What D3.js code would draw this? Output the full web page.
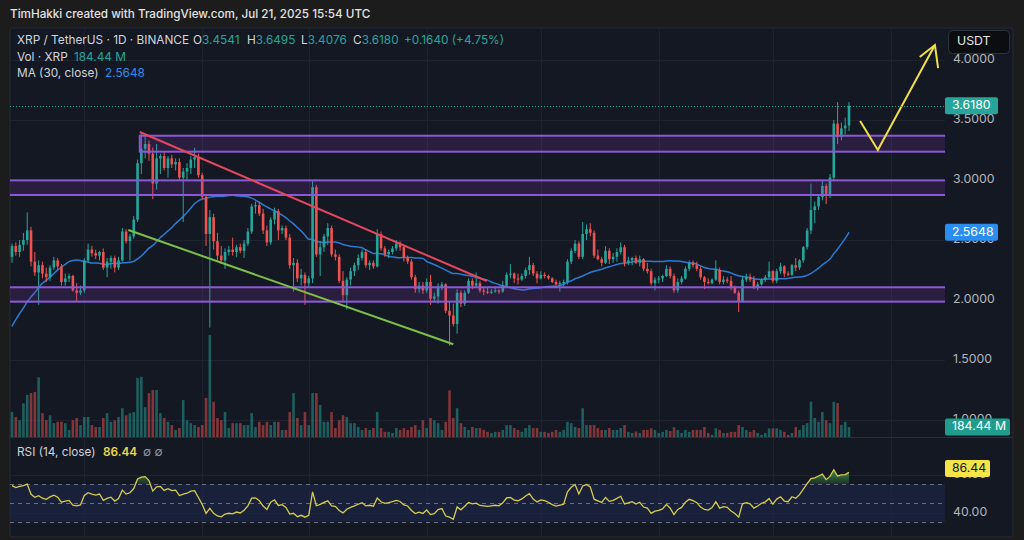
<!DOCTYPE html>
<html>
<head>
<meta charset="utf-8">
<script src="https://cdn.jsdelivr.net/npm/d3@7"></script>
<style>
  body { margin: 0; background: #1c1c1c; }
  svg { display: block; font-family: Inter, "Noto Sans", sans-serif; }
</style>
</head>
<body>
<div id="chart"></div>
<script>
// XRP/USDT daily candles, 13 Dec 2024 .. 21 Jul 2025
const startDate = "2024-12-13";
const opens = [2.36,2.45,2.40,2.46,2.50,2.58,2.32,2.23,2.29,2.22,2.19,2.27,2.33,2.28,2.15,2.18,2.20,2.08,2.06,2.08,
  2.33,2.42,2.39,2.37,2.40,2.27,2.32,2.35,2.27,2.33,2.57,2.49,2.53,2.67,3.14,3.26,3.30,3.22,2.97,3.18,
  3.20,3.10,3.18,3.13,3.15,3.02,3.07,3.10,3.17,3.19,3.04,2.86,2.55,2.69,2.49,2.37,2.33,2.40,2.42,2.40,
  2.44,2.41,2.47,2.57,2.78,2.79,2.72,2.58,2.48,2.67,2.74,2.58,2.60,2.52,2.29,2.31,2.18,2.21,2.14,2.18,
  2.94,2.38,2.44,2.53,2.60,2.38,2.36,2.16,2.04,2.17,2.24,2.29,2.35,2.40,2.29,2.31,2.28,2.55,2.43,2.38,
  2.40,2.43,2.47,2.44,2.35,2.32,2.19,2.09,2.12,2.08,2.15,2.01,2.03,2.11,2.13,1.91,1.87,1.80,2.06,1.97,
  2.06,2.16,2.12,2.14,2.08,2.07,2.06,2.07,2.08,2.07,2.12,2.21,2.22,2.18,2.17,2.20,2.25,2.29,2.22,2.18,
  2.21,2.20,2.18,2.15,2.13,2.14,2.15,2.32,2.41,2.47,2.36,2.55,2.59,2.56,2.37,2.34,2.31,2.41,2.34,2.36,
  2.40,2.44,2.31,2.33,2.35,2.31,2.34,2.26,2.24,2.14,2.17,2.18,2.20,2.26,2.20,2.08,2.15,2.18,2.26,2.31,
  2.29,2.26,2.19,2.15,2.14,2.17,2.25,2.15,2.17,2.16,2.10,2.06,1.99,2.17,2.19,2.17,2.10,2.13,2.17,2.19,
  2.24,2.16,2.24,2.28,2.22,2.21,2.29,2.27,2.33,2.44,2.58,2.75,2.78,2.86,2.95,2.88,3.02,3.47,3.36,3.43,
  3.4541];
const highs = [2.47,2.48,2.50,2.56,2.73,2.61,2.40,2.33,2.32,2.27,2.29,2.36,2.35,2.30,2.22,2.22,2.21,2.14,2.12,2.35,
  2.47,2.45,2.42,2.41,2.43,2.35,2.37,2.37,2.36,2.60,2.59,2.55,2.70,3.17,3.40,3.38,3.33,3.27,3.30,3.22,
  3.24,3.20,3.21,3.18,3.18,3.10,3.14,3.20,3.27,3.22,3.06,2.88,2.75,2.72,2.56,2.45,2.43,2.45,2.52,2.46,
  2.47,2.50,2.60,2.80,2.82,2.82,2.76,2.62,2.69,2.77,2.76,2.62,2.62,2.55,2.35,2.34,2.26,2.23,2.20,2.99,
  2.96,2.49,2.55,2.64,2.62,2.42,2.38,2.24,2.19,2.27,2.31,2.38,2.42,2.42,2.33,2.33,2.59,2.57,2.45,2.42,
  2.45,2.50,2.49,2.46,2.37,2.34,2.21,2.15,2.15,2.18,2.21,2.06,2.14,2.15,2.14,1.99,1.97,2.09,2.08,2.08,
  2.18,2.18,2.23,2.16,2.10,2.10,2.09,2.11,2.09,2.16,2.23,2.30,2.23,2.22,2.22,2.27,2.36,2.31,2.24,2.24,
  2.23,2.21,2.19,2.17,2.16,2.17,2.34,2.43,2.50,2.49,2.65,2.63,2.64,2.58,2.42,2.36,2.45,2.43,2.39,2.43,
  2.48,2.46,2.36,2.36,2.37,2.37,2.35,2.31,2.26,2.19,2.20,2.21,2.29,2.28,2.22,2.18,2.20,2.28,2.33,2.33,
  2.32,2.28,2.20,2.18,2.18,2.33,2.27,2.20,2.19,2.20,2.12,2.08,2.20,2.22,2.22,2.20,2.15,2.18,2.21,2.32,
  2.25,2.26,2.31,2.29,2.24,2.30,2.35,2.34,2.45,2.60,2.97,2.82,2.88,2.99,2.97,3.05,3.50,3.65,3.48,3.52,
  3.6495];
const lows = [2.31,2.37,2.36,2.41,2.46,2.28,2.20,1.96,2.18,2.15,2.16,2.25,2.25,2.12,2.12,2.15,2.07,1.99,2.04,2.06,
  2.31,2.36,2.34,2.33,2.25,2.19,2.26,2.23,2.25,2.32,2.47,2.33,2.51,2.65,3.05,3.18,3.16,2.84,2.92,3.05,
  3.08,3.02,3.10,3.08,3.00,2.65,3.00,3.05,3.10,3.02,2.84,2.45,1.77,2.42,2.33,2.30,2.26,2.37,2.37,2.36,
  2.39,2.35,2.45,2.55,2.72,2.70,2.55,2.45,2.46,2.63,2.50,2.55,2.50,2.26,2.07,2.15,2.12,1.96,2.11,2.14,
  2.36,2.20,2.40,2.46,2.36,2.33,2.14,1.99,1.92,2.12,2.20,2.25,2.33,2.27,2.25,2.26,2.27,2.41,2.36,2.35,
  2.38,2.41,2.41,2.32,2.30,2.17,2.06,2.06,2.05,2.06,1.96,1.98,1.97,2.08,1.89,1.62,1.78,1.72,1.94,1.95,
  2.05,2.09,2.10,2.06,2.04,2.05,2.05,2.06,2.05,2.06,2.10,2.18,2.14,2.13,2.16,2.18,2.21,2.20,2.14,2.17,
  2.18,2.17,2.14,2.12,2.07,2.11,2.13,2.30,2.39,2.34,2.34,2.50,2.53,2.35,2.33,2.28,2.30,2.30,2.31,2.32,
  2.38,2.28,2.29,2.29,2.30,2.28,2.24,2.22,2.12,2.08,2.14,2.15,2.19,2.18,2.06,2.06,2.13,2.17,2.24,2.27,
  2.24,2.17,2.09,2.13,2.13,2.16,2.13,2.13,2.14,2.08,2.05,1.90,1.98,2.15,2.15,2.09,2.08,2.12,2.15,2.18,
  2.14,2.14,2.22,2.19,2.20,2.20,2.24,2.25,2.31,2.42,2.55,2.64,2.75,2.83,2.80,2.85,3.00,3.30,3.33,3.38,
  3.4076];
const closes = [2.45,2.40,2.46,2.50,2.58,2.32,2.23,2.29,2.22,2.19,2.27,2.33,2.28,2.15,2.18,2.20,2.08,2.06,2.08,2.33,
  2.42,2.39,2.37,2.40,2.27,2.32,2.35,2.27,2.33,2.57,2.49,2.53,2.67,3.14,3.26,3.30,3.22,2.97,3.18,3.20,
  3.10,3.18,3.13,3.15,3.02,3.07,3.10,3.17,3.19,3.04,2.86,2.55,2.69,2.49,2.37,2.33,2.40,2.42,2.40,2.44,
  2.41,2.47,2.57,2.78,2.79,2.72,2.58,2.48,2.67,2.74,2.58,2.60,2.52,2.29,2.31,2.18,2.21,2.14,2.18,2.94,
  2.38,2.44,2.53,2.60,2.38,2.36,2.16,2.04,2.17,2.24,2.29,2.35,2.40,2.29,2.31,2.28,2.55,2.43,2.38,2.40,
  2.43,2.47,2.44,2.35,2.32,2.19,2.09,2.12,2.08,2.15,2.01,2.03,2.11,2.13,1.91,1.87,1.80,2.06,1.97,2.06,
  2.16,2.12,2.14,2.08,2.07,2.06,2.07,2.08,2.07,2.12,2.21,2.22,2.18,2.17,2.20,2.25,2.29,2.22,2.18,2.21,
  2.20,2.18,2.15,2.13,2.14,2.15,2.32,2.41,2.47,2.36,2.55,2.59,2.56,2.37,2.34,2.31,2.41,2.34,2.36,2.40,
  2.44,2.31,2.33,2.35,2.31,2.34,2.26,2.24,2.14,2.17,2.18,2.20,2.26,2.20,2.08,2.15,2.18,2.26,2.31,2.29,
  2.26,2.19,2.15,2.14,2.17,2.25,2.15,2.17,2.16,2.10,2.06,1.99,2.17,2.19,2.17,2.10,2.13,2.17,2.19,2.24,
  2.16,2.24,2.28,2.22,2.21,2.29,2.27,2.33,2.44,2.58,2.75,2.78,2.86,2.95,2.88,3.02,3.47,3.36,3.43,3.4540,
  3.6180];
// volume in millions of XRP
const volumes = [460,370,310,620,775,810,830,1100,440,310,400,255,280,280,255,130,310,350,220,370,
  370,220,185,185,350,440,280,310,370,530,400,440,460,1090,1110,550,810,865,865,440,
  350,280,220,130,165,680,310,255,220,185,220,720,1880,650,350,310,460,165,255,255,
  255,220,220,440,185,280,220,280,220,280,280,130,130,460,810,350,220,460,220,810,
  810,590,280,280,460,165,310,400,370,255,255,185,130,165,130,165,460,165,95,95,
  75,165,130,165,130,185,220,130,310,165,350,310,255,130,280,860,350,530,255,185,
  130,185,165,165,130,95,75,95,95,130,220,220,165,130,95,165,220,165,165,95,
  95,75,95,130,95,130,280,255,185,165,530,220,220,220,165,130,130,165,130,130,
  165,220,95,75,100,75,130,130,160,130,75,95,130,110,180,130,75,130,95,130,
  130,130,185,75,40,160,130,75,75,95,95,220,185,130,95,130,75,40,75,160,
  160,160,130,95,40,75,185,130,220,255,650,350,280,460,310,255,650,625,220,280,
  184.44];
// closes 14 Nov .. 12 Dec 2024, only used to warm up MA and RSI
const priorCloses = [0.75,0.91,1.10,1.06,1.13,1.08,1.10,1.12,1.46,1.46,1.42,1.43,1.38,1.52,1.53,1.77,1.95,
  2.18,2.64,2.52,2.61,2.37,2.51,2.47,2.42,2.07,2.24,2.38,2.40];

const priceTicks = [4, 3.5, 3, 2.5, 2, 1.5, 1];
const rsiTicks = [80, 40];
const rsiLevels = [70, 50, 30];
const maLast = 2.5648;
const rsiLast = 86.44;

// drawings on the chart
const zoneTops = [3.369, 2.997, 2.106];
const zoneBottoms = [3.236, 2.875, 1.986];
const zoneStarts = ["2025-01-15T14:00Z", null, null];
const redLine = [["2025-01-15T14:00Z", 3.40], ["2025-04-16T19:00Z", 2.158]];
const greenLine = [["2025-01-12T14:00Z", 2.583], ["2025-04-08T00:00Z", 1.631]];
const yellowPath = [["2025-07-23T22:00Z", 3.492], ["2025-07-28T14:00Z", 3.25], ["2025-08-12T14:00Z", 4.125]];
const arrowHead = [["2025-08-08T14:00Z", 4.025], ["2025-08-12T14:00Z", 4.125], ["2025-08-13T10:00Z", 3.933]];

const W = 1024, H = 540;
const pane = { left: 10, right: 1013, top: 28, bottom: 537 };
const plotRight = 945;
const volBottom = 437;

const up = "#26a69a", down = "#ef5350";

const first = new Date(startDate + "T00:00Z");
const dates = d3.utcDay.range(first, d3.utcDay.offset(first, opens.length));
const data = dates.map((d, i) => ({
  date: d, open: opens[i], high: highs[i], low: lows[i], close: closes[i], vol: volumes[i],
}));

function movingAverage(values, n) {
  return values.map((v, i) => i < n - 1 ? null : d3.mean(values.slice(i - n + 1, i + 1)));
}

function calcRsi(values, n) {
  const out = values.map(() => null);
  let g = 0, l = 0;
  for (let i = 1; i <= n; i++) {
    const ch = values[i] - values[i - 1];
    if (ch > 0) g += ch; else l -= ch;
  }
  let ag = g / n, al = l / n;
  out[n] = al === 0 ? 100 : 100 - 100 / (1 + ag / al);
  for (let i = n + 1; i < values.length; i++) {
    const ch = values[i] - values[i - 1];
    ag = (ag * (n - 1) + Math.max(ch, 0)) / n;
    al = (al * (n - 1) + Math.max(-ch, 0)) / n;
    out[i] = al === 0 ? 100 : 100 - 100 / (1 + ag / al);
  }
  return out;
}

const allCloses = priorCloses.concat(closes);
const ma = movingAverage(allCloses, 30).slice(priorCloses.length);
const rsi = calcRsi(allCloses, 14).slice(priorCloses.length);
data.forEach((d, i) => { d.ma = ma[i]; d.rsi = rsi[i]; });

const x = d3.scaleUtc().domain([dates[0], dates[dates.length - 1]]).range([12, 849]);
const y = d3.scaleLinear().domain([1, 4]).range([420, 60]);
const yVol = d3.scaleLinear().domain([0, d3.max(volumes)]).range([volBottom, 335]);
const yRsi = d3.scaleLinear().domain([30, 70]).range([522, 484]);
const t = (s) => new Date(s);

const svg = d3.select("#chart").append("svg").attr("width", W).attr("height", H);

svg.append("rect").attr("width", W).attr("height", H).attr("fill", "#1c1c1c");
svg.append("rect")
  .attr("x", pane.left).attr("y", pane.top)
  .attr("width", pane.right - pane.left).attr("height", pane.bottom - pane.top)
  .attr("rx", 3).attr("fill", "#141823").attr("stroke", "#262a35");

const defs = svg.append("defs");
defs.append("clipPath").attr("id", "clip-main").append("rect")
  .attr("x", pane.left).attr("y", pane.top).attr("width", plotRight - pane.left).attr("height", volBottom - pane.top);
defs.append("clipPath").attr("id", "clip-rsi").append("rect")
  .attr("x", pane.left).attr("y", 438).attr("width", plotRight - pane.left).attr("height", pane.bottom - 438);
defs.append("clipPath").attr("id", "clip-ob").append("rect")
  .attr("x", pane.left).attr("y", 438).attr("width", plotRight - pane.left).attr("height", yRsi(70) - 438);
const grad = defs.append("linearGradient").attr("id", "ob-grad").attr("x1", 0).attr("x2", 0).attr("y1", 0).attr("y2", 1);
grad.append("stop").attr("offset", "0%").attr("stop-color", "#4caf50").attr("stop-opacity", 0.75);
grad.append("stop").attr("offset", "100%").attr("stop-color", "#4caf50").attr("stop-opacity", 0.15);

// header
svg.append("text").attr("x", 10).attr("y", 15).attr("dominant-baseline", "middle")
  .attr("fill", "#e3e3e3").attr("font-size", 11.7).attr("font-weight", 500)
  .text("TimHakki created with TradingView.com, Jul 21, 2025 15:54 UTC");

// grid
const grid = svg.append("g").attr("stroke", "#1f2330").attr("stroke-width", 1);
const months = d3.utcMonth.range(d3.utcMonth.ceil(dates[0]), d3.utcDay.offset(dates[dates.length - 1], 30));
grid.selectAll(".v").data(months).join("line")
  .attr("x1", (d) => Math.round(x(d)) + 0.5).attr("x2", (d) => Math.round(x(d)) + 0.5)
  .attr("y1", pane.top).attr("y2", pane.bottom);
grid.selectAll(".h").data(priceTicks).join("line")
  .attr("x1", pane.left).attr("x2", plotRight)
  .attr("y1", (d) => Math.round(y(d)) + 0.5).attr("y2", (d) => Math.round(y(d)) + 0.5);
grid.selectAll(".r").data(rsiTicks).join("line")
  .attr("x1", pane.left).attr("x2", plotRight)
  .attr("y1", (d) => Math.round(yRsi(d)) + 0.5).attr("y2", (d) => Math.round(yRsi(d)) + 0.5);

const main = svg.append("g").attr("clip-path", "url(#clip-main)");

// volume
const bw = 2.6;
main.append("g").selectAll("rect").data(data).join("rect")
  .attr("x", (d) => x(d.date) - bw / 2).attr("width", bw)
  .attr("y", (d) => yVol(d.vol)).attr("height", (d) => volBottom - yVol(d.vol))
  .attr("fill", (d) => d.close >= d.open ? up : down).attr("fill-opacity", 0.5);

// MA 30
main.append("path").datum(data.filter((d) => d.ma !== null))
  .attr("fill", "none").attr("stroke", "#2b7bd4").attr("stroke-width", 1.5)
  .attr("d", d3.line().x((d) => x(d.date)).y((d) => y(d.ma)).curve(d3.curveMonotoneX));

// candles
const candle = main.append("g").selectAll("g").data(data).join("g")
  .attr("fill", (d) => d.close >= d.open ? up : down)
  .attr("stroke", (d) => d.close >= d.open ? up : down);
candle.append("line")
  .attr("x1", (d) => x(d.date)).attr("x2", (d) => x(d.date))
  .attr("y1", (d) => y(d.high)).attr("y2", (d) => y(d.low)).attr("stroke-width", 1);
candle.append("rect").attr("stroke", "none")
  .attr("x", (d) => x(d.date) - bw / 2).attr("width", bw)
  .attr("y", (d) => y(Math.max(d.open, d.close)))
  .attr("height", (d) => Math.max(1, Math.abs(y(d.open) - y(d.close))));

// zones
const zones = zoneTops.map((top, i) => ({ top, bottom: zoneBottoms[i], from: zoneStarts[i] }));
const zg = main.append("g");
zg.selectAll("rect").data(zones).join("rect")
  .attr("x", (d) => d.from ? x(t(d.from)) : pane.left - 2)
  .attr("width", (d) => plotRight + 2 - (d.from ? x(t(d.from)) : pane.left - 2))
  .attr("y", (d) => y(d.top)).attr("height", (d) => y(d.bottom) - y(d.top))
  .attr("fill", "#9c3fd0").attr("fill-opacity", 0.16)
  .attr("stroke", "#8a5ad6").attr("stroke-width", 2);

// trend lines
const pline = d3.line().x((d) => x(t(d[0]))).y((d) => y(d[1]));
main.append("path").datum(redLine).attr("d", pline)
  .attr("fill", "none").attr("stroke", "#e4475d").attr("stroke-width", 2);
main.append("path").datum(greenLine).attr("d", pline)
  .attr("fill", "none").attr("stroke", "#7dbf4b").attr("stroke-width", 2);
main.append("path").datum(yellowPath).attr("d", pline)
  .attr("fill", "none").attr("stroke", "#f0df48").attr("stroke-width", 2);
main.append("path").datum(arrowHead).attr("d", pline)
  .attr("fill", "none").attr("stroke", "#f0df48").attr("stroke-width", 2);

// last price dotted line
const last = data[data.length - 1];
main.append("line")
  .attr("x1", pane.left).attr("x2", plotRight)
  .attr("y1", Math.round(y(last.close)) + 0.5).attr("y2", Math.round(y(last.close)) + 0.5)
  .attr("stroke", up).attr("stroke-dasharray", "1,2");

// separator between panes
svg.append("line").attr("x1", pane.left).attr("x2", pane.right)
  .attr("y1", 437.5).attr("y2", 437.5).attr("stroke", "#2a2e39");

// RSI pane
const rsiG = svg.append("g").attr("clip-path", "url(#clip-rsi)");
rsiG.append("rect").attr("x", pane.left).attr("width", plotRight - pane.left)
  .attr("y", yRsi(70)).attr("height", yRsi(30) - yRsi(70))
  .attr("fill", "#1d2748").attr("fill-opacity", 0.6);
rsiG.selectAll(".lvl").data(rsiLevels).join("line")
  .attr("x1", pane.left).attr("x2", plotRight)
  .attr("y1", (d) => Math.round(yRsi(d)) + 0.5).attr("y2", (d) => Math.round(yRsi(d)) + 0.5)
  .attr("stroke", "#6c7080").attr("stroke-dasharray", "4,4");
const rsiData = data.filter((d) => d.rsi !== null);
rsiG.append("path").datum(rsiData).attr("clip-path", "url(#clip-ob)")
  .attr("fill", "url(#ob-grad)")
  .attr("d", d3.area().x((d) => x(d.date)).y0(yRsi(70)).y1((d) => yRsi(Math.max(70, d.rsi))));
rsiG.append("path").datum(rsiData)
  .attr("fill", "none").attr("stroke", "#d8cc4c").attr("stroke-width", 1.3)
  .attr("d", d3.line().x((d) => x(d.date)).y((d) => yRsi(d.rsi)));

// legend
const fmt4 = d3.format(".4f");
const leg = svg.append("g").attr("font-size", 11.8).attr("fill", "#d1d4dc").attr("dominant-baseline", "middle");
leg.append("text").attr("x", 17).attr("y", 41).text("XRP / TetherUS · 1D · BINANCE");
const ohlc = [["O", last.open, 193], ["H", last.high, 247], ["L", last.low, 301], ["C", last.close, 353]];
ohlc.forEach(([k, v, px]) => {
  const tx = leg.append("text").attr("x", px).attr("y", 41);
  tx.append("tspan").text(k);
  tx.append("tspan").attr("fill", up).text(fmt4(v));
});
const prev = data[data.length - 2].close;
const chg = last.close - prev;
leg.append("text").attr("x", 404).attr("y", 41).attr("fill", up)
  .text(`+${fmt4(chg)} (+${d3.format(".2f")(chg / prev * 100)}%)`);
leg.append("text").attr("x", 17).attr("y", 58).text("Vol · XRP");
leg.append("text").attr("x", 74).attr("y", 58).attr("fill", up).text(`${d3.format(".2f")(last.vol)} M`);
leg.append("text").attr("x", 17).attr("y", 74).text("MA (30, close)");
leg.append("text").attr("x", 105).attr("y", 74).attr("fill", "#2a8ef0").text(fmt4(maLast));

leg.append("text").attr("x", 17).attr("y", 453).text("RSI (14, close)");
leg.append("text").attr("x", 103).attr("y", 453).attr("fill", "#ecd94a").attr("font-weight", 600).text(rsiLast.toFixed(2));
leg.append("text").attr("x", 143).attr("y", 453).attr("fill", "#9598a1").text("∅ ∅");

// price axis
const ax = svg.append("g").attr("font-size", 12.3).attr("dominant-baseline", "middle");
ax.selectAll(".p").data(priceTicks).join("text")
  .attr("x", 953).attr("y", (d) => y(d)).attr("fill", "#b2b5be").text((d) => fmt4(d));
ax.selectAll(".r").data(rsiTicks).join("text")
  .attr("x", 953).attr("y", (d) => yRsi(d)).attr("fill", "#b2b5be").text((d) => d.toFixed(2));

function tag(value, ty, bg, fg, w) {
  ax.append("rect").attr("x", 945).attr("y", ty - 8.5).attr("width", w).attr("height", 17)
    .attr("rx", 2).attr("fill", bg);
  ax.append("text").attr("x", 952).attr("y", ty).attr("fill", fg).text(value);
}
tag(fmt4(last.close), y(last.close), up, "#ffffff", 53);
tag(fmt4(maLast), y(maLast), "#2a8ef0", "#ffffff", 53);
tag(`${d3.format(".2f")(last.vol)} M`, yVol(last.vol), "#1f9c8c", "#ffffff", 65);
tag(rsiLast.toFixed(2), yRsi(rsiLast), "#f5e348", "#131722", 45);

// currency button
ax.append("rect").attr("x", 948.5).attr("y", 30.5).attr("width", 61).attr("height", 23).attr("rx", 4)
  .attr("fill", "#0c0d10").attr("stroke", "#2e323d");
ax.append("text").attr("x", 957).attr("y", 42).attr("fill", "#e6e6e6").text("USDT");
</script>
</body>
</html>
